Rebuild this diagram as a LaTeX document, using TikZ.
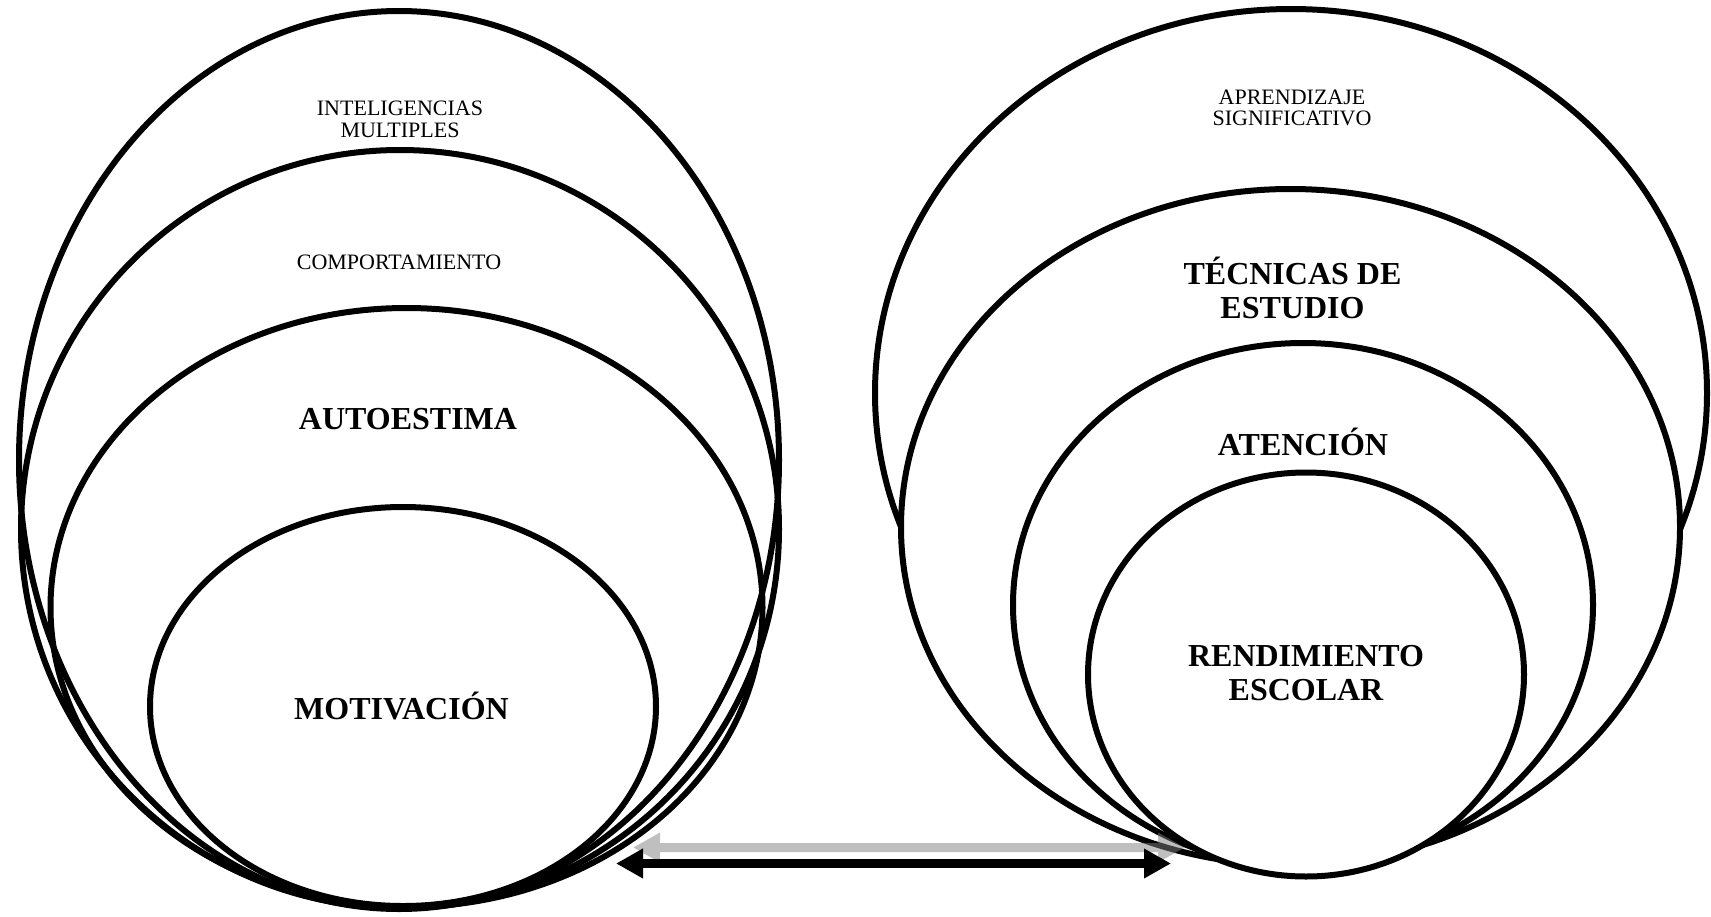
\documentclass[tikz,border=0pt]{standalone}
\usepackage{fontspec}
\setmainfont{Liberation Serif}
\usetikzlibrary{arrows.meta}
\begin{document}
\begin{tikzpicture}[x=1pt,y=-1pt,
  ring/.style={line width=6pt},
  ringfill/.style={line width=6pt, fill=white},
  small/.style={font=\fontsize{22}{21.5}\selectfont, align=center, inner sep=0pt},
  big/.style={font=\fontsize{32}{34}\selectfont\bfseries, align=center, inner sep=0pt},
  link/.style={line width=9pt, arrows={Triangle[length=27pt,width=28pt]-Triangle[length=27pt,width=28pt]}}]
\useasboundingbox (0,0) rectangle (1711,916);
% left group
\draw[ring] (399,460) ellipse [x radius=380, y radius=449];
\draw[ring] (400,529) ellipse [x radius=379, y radius=379];
\draw[ring] (406.5,607.5) ellipse [x radius=356, y radius=299.5];
\draw[ring] (403,706.5) ellipse [x radius=253, y radius=199.5];
% right group
\draw[ringfill] (1291,393) ellipse [x radius=416, y radius=384];
\draw[ringfill] (1290.5,527) ellipse [x radius=389.5, y radius=338];
\draw[ringfill] (1303,605) ellipse [x radius=290, y radius=262];
\draw[ringfill] (1306,674.5) ellipse [x radius=218, y radius=202];
% texts
\node[small] (intel) at (400,119.5) {INTELIGENCIAS\\MULTIPLES};
\node[small] (comp) at (399,262) {COMPORTAMIENTO};
\node[big] (auto) at (408,419) {AUTOESTIMA};
\node[big] (moti) at (401.5,706) {MOTIVACIÓN};
\node[small] (apren) at (1292,108) {APRENDIZAJE\\SIGNIFICATIVO};
\node[big] (tecn) at (1292.5,288) {TÉCNICAS DE\\ESTUDIO};
\node[big] (aten) at (1303,442) {ATENCIÓN};
\node[big] (rend) at (1306,673.5) {RENDIMIENTO\\ESCOLAR};
% arrows
\coordinate (gl) at (633,847.5);
\coordinate (gr) at (1185,847.5);
\coordinate (bl) at (616,863.5);
\coordinate (br) at (1171,863.5);
\begin{scope}[transparency group, opacity=0.5]
\draw[link, draw=black!50, fill=black!50] (gl) -- (gr);
\end{scope}
\draw[link] (bl) -- (br);
\end{tikzpicture}
\end{document}
